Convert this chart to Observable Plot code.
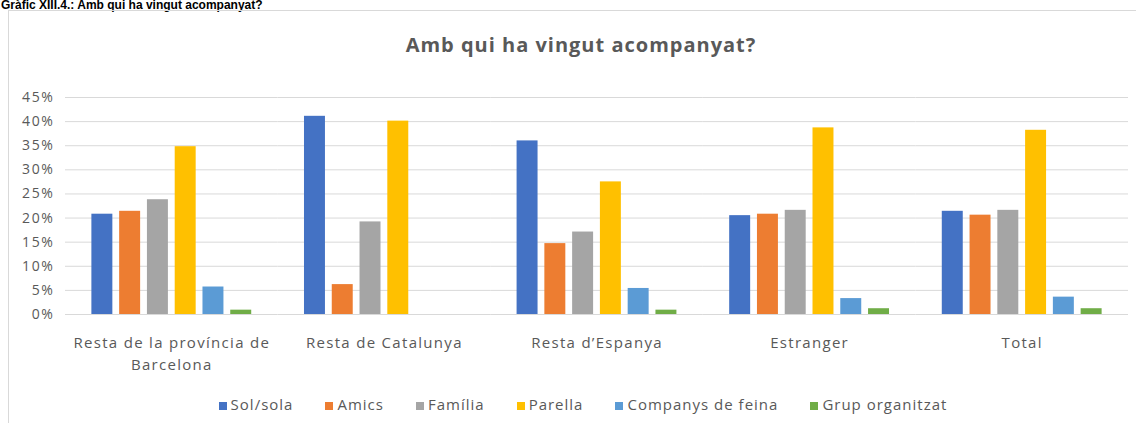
<!DOCTYPE html>
<html><head><meta charset="utf-8">
<script src="https://cdn.jsdelivr.net/npm/d3@7"></script>
<script src="https://cdn.jsdelivr.net/npm/@observablehq/plot@0.6"></script>
<style>
body{margin:0;width:1136px;height:423px;overflow:hidden;position:relative;background:#fff;font-family:"Open Sans",sans-serif;}
#hdr{position:absolute;left:1px;top:-1px;line-height:12px;font:bold 12px/12px "Liberation Sans",Arial,sans-serif;color:#000;white-space:nowrap;}
#frame{position:absolute;left:8px;top:10px;width:1140px;height:440px;border:1px solid #d9d9d9;box-sizing:border-box;}
#title{position:absolute;left:13px;width:1136px;top:31px;text-align:center;font-weight:bold;font-size:20px;letter-spacing:1px;color:#595959;}
#chart{position:absolute;left:0;top:85px;}
#chart g[aria-label="y-axis tick label"] text{letter-spacing:1.6px;}
#chart g[aria-label="fx-axis tick label"] text{letter-spacing:1.3px;}
#legend{position:absolute;top:394px;left:15px;width:1136px;text-align:center;font-size:15px;letter-spacing:1px;color:#595959;white-space:nowrap;}
#legend span.it{display:inline-block;margin:0 16px;}
#legend span.sw{display:inline-block;width:8px;height:8px;margin-right:4px;vertical-align:0px;}
</style></head>
<body>
<div id="hdr">Gràfic XIII.4.: Amb qui ha vingut acompanyat?</div>
<div id="frame"></div>
<div id="title">Amb qui ha vingut acompanyat?</div>
<div id="chart"></div>
<div id="legend"></div>
<script>
const categories = ["Resta de la província de\nBarcelona", "Resta de Catalunya", "Resta d’Espanya", "Estranger", "Total"];
const series = ["Sol/sola", "Amics", "Família", "Parella", "Companys de feina", "Grup organitzat"];
const solSola   = [20.8, 41.1, 36.0, 20.5, 21.4];
const amics     = [21.4, 6.2, 14.7, 20.8, 20.6];
const familia   = [23.8, 19.2, 17.1, 21.6, 21.6];
const parella   = [34.8, 40.1, 27.5, 38.7, 38.2];
const companys  = [5.7, 0, 5.4, 3.3, 3.6];
const grup      = [0.9, 0, 0.9, 1.2, 1.2];
const colors = ["#4472C4", "#ED7D31", "#A5A5A5", "#FFC000", "#5B9BD5", "#70AD47"];
const yTicks = [0, 5, 10, 15, 20, 25, 30, 35, 40, 45];

const seriesValues = [solSola, amics, familia, parella, companys, grup];
const data = [];
categories.forEach((c, i) => series.forEach((s, j) => data.push({cat: c, series: s, value: seriesValues[j][i]})));

const chart = Plot.plot({
  width: 1136, height: 290,
  marginLeft: 65, marginRight: 8, marginTop: 12, marginBottom: 61,
  style: {fontFamily: "Open Sans", fontSize: "13px", color: "#595959", background: "transparent"},
  fx: {domain: categories, padding: 0, label: null, round: false},
  x: {domain: series, paddingInner: 0.245, paddingOuter: 0.95, round: false, axis: null},
  y: {domain: [0, 45], label: null},
  color: {domain: series, range: colors},
  marks: [
    Plot.gridY(yTicks, {stroke: "#d9d9d9", strokeOpacity: 1}),
    Plot.axisY({ticks: yTicks, tickFormat: d => d + "%", tickSize: 0, tickPadding: 11, fill: "#595959", fontSize: 14, label: null}),
    Plot.axisFx({anchor: "bottom", tickSize: 0, tickPadding: 18, fontSize: 15, fill: "#595959", lineHeight: 1.47, label: null}),
    Plot.barY(data, {fx: "cat", x: "series", y: "value", fill: "series"})
  ]
});
document.getElementById("chart").appendChild(chart);

const lg = document.getElementById("legend");
series.forEach((s, j) => {
  const it = document.createElement("span"); it.className = "it";
  const sw = document.createElement("span"); sw.className = "sw"; sw.style.background = colors[j];
  it.appendChild(sw); it.appendChild(document.createTextNode(s));
  lg.appendChild(it);
});
</script>
</body></html>
